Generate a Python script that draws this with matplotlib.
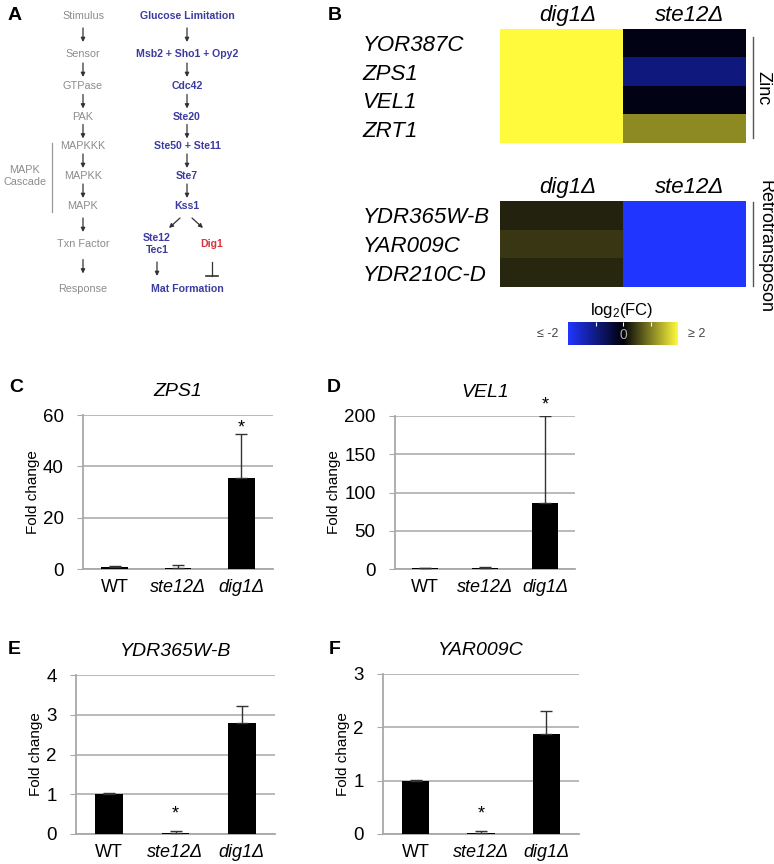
import numpy as np
import matplotlib
matplotlib.use('Agg')
import matplotlib.pyplot as plt
from matplotlib.colors import LinearSegmentedColormap, Normalize
from matplotlib.cm import ScalarMappable
from matplotlib.lines import Line2D

plt.rcParams['font.family'] = ['Liberation Sans', 'DejaVu Sans']
plt.rcParams['mathtext.default'] = 'regular'

# panel B: log2 fold change
strains_hm = ['dig1Δ', 'ste12Δ']
zinc_genes = ['YOR387C', 'ZPS1', 'VEL1', 'ZRT1']
zinc_dig1 = [2.0, 2.0, 2.0, 2.0]
zinc_ste12 = [-0.1, -0.95, -0.1, 1.1]
retro_genes = ['YDR365W-B', 'YAR009C', 'YDR210C-D']
retro_dig1 = [0.27, 0.44, 0.3]
retro_ste12 = [-2.0, -2.0, -2.0]

# paneles C-F: fold change (media y error)
strains = ['WT', 'ste12Δ', 'dig1Δ']
zps1 = [0.8, 0.3, 35.5]
zps1_err = [0.3, 1.2, 17.0]
vel1 = [1.0, 1.0, 86.0]
vel1_err = [0.5, 1.5, 114.0]
ydr365 = [1.0, 0.03, 2.8]
ydr365_err = [0.02, 0.04, 0.42]
yar009 = [1.0, 0.02, 1.88]
yar009_err = [0.02, 0.03, 0.43]

# panel A: ruta de senalizacion
levels = ['Stimulus', 'Sensor', 'GTPase', 'PAK', 'MAPKKK', 'MAPKK', 'MAPK', 'Txn Factor', 'Response']
level_y = [16, 54, 86, 117, 146, 176, 206, 244, 289]
pathway = ['Glucose Limitation', 'Msb2 + Sho1 + Opy2', 'Cdc42', 'Ste20', 'Ste50 + Ste11', 'Ste7', 'Kss1']

W, H = 774, 864
fig = plt.figure(figsize=(W / 100, H / 100), dpi=100)


def box(x0, y0, x1, y1):
    return [x0 / W, 1 - y1 / H, (x1 - x0) / W, (y1 - y0) / H]


def fx(x, y):
    return x / W, 1 - y / H


# ---------- panel A ----------
gray = '#8c8c8c'
blue = '#3c3ca0'
axA = fig.add_axes(box(0, 0, 260, 310))
axA.set_xlim(0, 260)
axA.set_ylim(310, 0)
axA.axis('off')
arr = dict(arrowstyle='-|>', color='#333333', lw=0.9, mutation_scale=6, shrinkA=0, shrinkB=0)


def flecha(x, y0, y1):
    # flecha corta centrada entre dos niveles
    c = (y0 + y1) / 2
    axA.annotate('', xy=(x, c + 7), xytext=(x, c - 7), arrowprops=arr)


for i, lab in enumerate(levels):
    axA.text(83, level_y[i], lab, ha='center', va='center', fontsize=7.8, color=gray)
    if i < len(levels) - 1:
        flecha(83, level_y[i], level_y[i + 1])
for i, lab in enumerate(pathway):
    axA.text(187, level_y[i], lab, ha='center', va='center', fontsize=7.6, color=blue, fontweight='bold')
    if i < len(pathway) - 1:
        flecha(187, level_y[i], level_y[i + 1])
axA.annotate('', xy=(169, 228), xytext=(180, 218), arrowprops=arr)
axA.annotate('', xy=(203, 228), xytext=(192, 218), arrowprops=arr)
axA.text(157, 238, 'Ste12', ha='center', va='center', fontsize=7.6, color=blue, fontweight='bold')
axA.text(157, 250, 'Tec1', ha='center', va='center', fontsize=7.6, color=blue, fontweight='bold')
axA.text(212, 244, 'Dig1', ha='center', va='center', fontsize=7.6, color='#d9343c', fontweight='bold')
axA.annotate('', xy=(157, 276), xytext=(157, 262), arrowprops=arr)
axA.plot([212, 212], [262, 276], color='#333333', lw=0.9)
axA.plot([206, 218], [276, 276], color='#333333', lw=1.2)
axA.text(187, 289, 'Mat Formation', ha='center', va='center', fontsize=7.6, color=blue, fontweight='bold')
axA.text(25, 170, 'MAPK', ha='center', va='center', fontsize=7.8, color=gray)
axA.text(25, 182, 'Cascade', ha='center', va='center', fontsize=7.8, color=gray)
axA.plot([52, 52], [143, 212], color='#999999', lw=0.9)

# ---------- panel B ----------
cmap = LinearSegmentedColormap.from_list('by', ['#2035ff', '#000008', '#fffa3c'])


def heat(rect, genes, c1, c2):
    ax = fig.add_axes(rect)
    data = np.column_stack([c1, c2])
    ax.imshow(data, cmap=cmap, vmin=-2, vmax=2, aspect='auto', interpolation='nearest')
    ax.set_xticks([0.05, 1.05])
    ax.set_xticklabels(strains_hm, fontstyle='italic', fontsize=16)
    ax.set_xlim(-0.5, 1.5)
    ax.xaxis.tick_top()
    ax.set_yticks(range(len(genes)))
    ax.set_yticklabels(genes, fontstyle='italic', fontsize=16)
    for t in ax.get_yticklabels():
        t.set_ha('left')
    ax.tick_params(axis='x', length=0, pad=2)
    ax.tick_params(axis='y', length=0, pad=99)
    for s in ax.spines.values():
        s.set_visible(False)
    return ax


heat(box(500, 29, 745, 143), zinc_genes, zinc_dig1, zinc_ste12)
heat(box(500, 201, 745, 287), retro_genes, retro_dig1, retro_ste12)

fig.add_artist(Line2D([fx(753, 0)[0]] * 2, [fx(0, 37)[1], fx(0, 138)[1]], color='#555555', lw=1))
fig.text(*fx(763, 88), 'Zinc', rotation=270, ha='center', va='center', fontsize=13)
fig.add_artist(Line2D([fx(753, 0)[0]] * 2, [fx(0, 202)[1], fx(0, 286)[1]], color='#555555', lw=1))
fig.text(*fx(765, 246), 'Retrotransposon', rotation=270, ha='center', va='center', fontsize=13)

cax = fig.add_axes(box(568, 322, 678, 345))
cb = fig.colorbar(ScalarMappable(Normalize(-2, 2), cmap), cax=cax, orientation='horizontal')
cb.outline.set_visible(False)
cax.set_xticks([-1, 0, 1])
cax.tick_params(axis='x', direction='in', color='white', length=3, width=0.8,
                top=True, bottom=False, labelbottom=False)
cax.text(0.5, 0.45, '0', transform=cax.transAxes, ha='center', va='center', fontsize=10, color='#aaaaaa')
fig.text(*fx(622, 310), r'log$_2$(FC)', ha='center', va='center', fontsize=12)
fig.text(*fx(548, 334), '≤ -2', ha='center', va='center', fontsize=9, color='#444444')
fig.text(*fx(697, 334), '≥ 2', ha='center', va='center', fontsize=9, color='#444444')


# ---------- paneles C-F ----------
def barras(rect, title, vals, errs, top, step, star_i, star_y):
    ax = fig.add_axes(rect)
    x = np.arange(len(strains))
    ax.bar(x, vals, width=0.42, color='black', zorder=3)
    ax.errorbar(x, vals, yerr=[np.zeros(len(errs)), errs], fmt='none', ecolor='#333333',
                elinewidth=1, capsize=4, capthick=1, zorder=4)
    ax.set_xlim(-0.5, 2.5)
    ax.set_ylim(0, top)
    ax.set_yticks(np.arange(0, top + step / 2, step))
    ax.yaxis.grid(True, color='#b4b4b4', lw=1.3, zorder=0)
    ax.set_xticks(x)
    ax.set_xticklabels(strains, fontsize=13)
    for t in ax.get_xticklabels()[1:]:
        t.set_fontstyle('italic')
    ax.tick_params(axis='x', length=0, pad=7)
    ax.tick_params(axis='y', labelsize=13.5, length=4, color='#a8a8a8', pad=10)
    for s in ['top', 'right']:
        ax.spines[s].set_visible(False)
    for s in ['left', 'bottom']:
        ax.spines[s].set_color('#a8a8a8')
        ax.spines[s].set_linewidth(1.3)
    ax.set_ylabel('Fold change', fontsize=11, labelpad=2)
    ax.set_title(title, fontstyle='italic', fontsize=14, pad=14)
    ax.text(star_i, star_y, '*', ha='center', va='center', fontsize=13, clip_on=False)
    return ax


barras(box(83, 415, 273, 569), 'ZPS1', zps1, zps1_err, 60, 20, 2, 55)
barras(box(395, 416, 575, 569), 'VEL1', vel1, vel1_err, 200, 50, 2, 215)
barras(box(76, 675, 275, 834), 'YDR365W-B', ydr365, ydr365_err, 4, 1, 1, 0.5)
barras(box(383, 674, 579, 834), 'YAR009C', yar009, yar009_err, 3, 1, 1, 0.37)

for lab, (px, py) in zip('ABCDEF', [(15, 15), (335, 15), (16, 387), (334, 387), (14, 650), (335, 650)]):
    fig.text(*fx(px, py), lab, ha='center', va='center', fontsize=14, fontweight='bold')

fig.savefig('out.png', dpi=100)
